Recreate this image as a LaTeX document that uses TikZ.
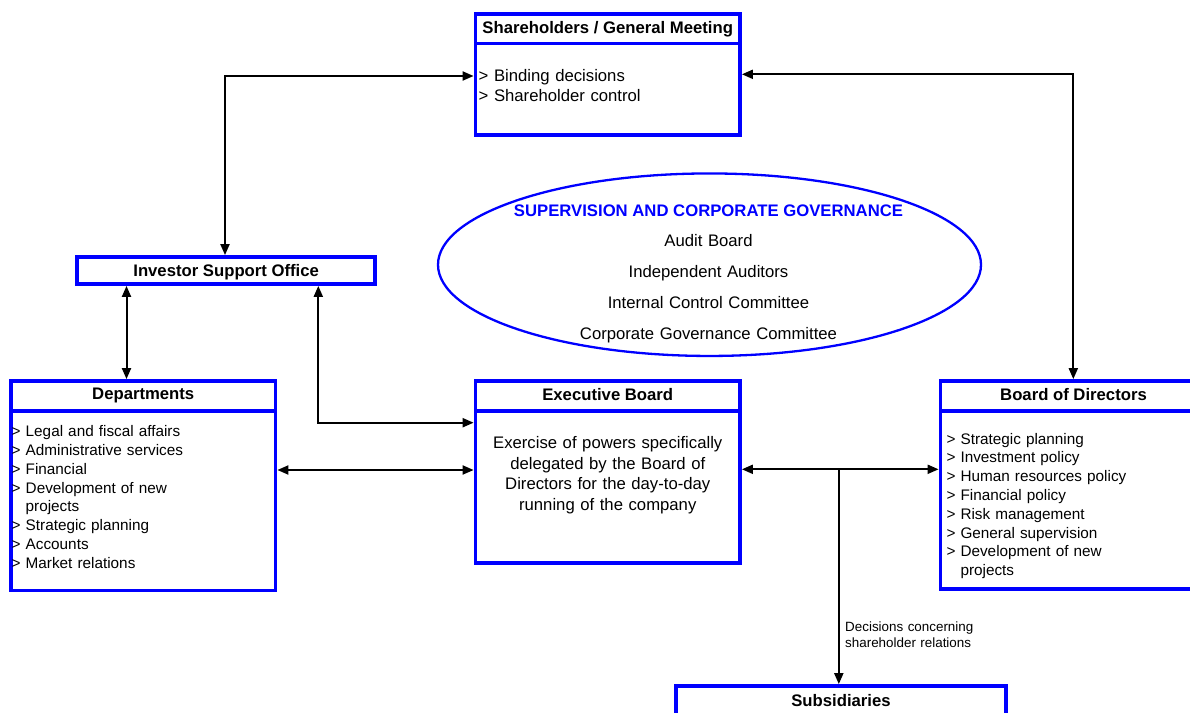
\documentclass[tikz,border=0pt]{standalone}
\usepackage{fontspec}
\setmainfont{Liberation Sans}
\usetikzlibrary{arrows.meta,shapes.geometric}
\definecolor{bblue}{RGB}{0,0,255}
\begin{document}
\begin{tikzpicture}[x=1pt,y=-1pt,
  box/.style={draw=bblue, line width=3.8pt, inner sep=0pt, fill=white},
  divl/.style={draw=bblue, line width=3.8pt},
  ttl/.style={font=\fontsize{16.7}{20}\selectfont\bfseries, inner sep=0pt},
  mtxt/.style={font=\fontsize{16.7}{20.8}\selectfont, inner sep=0pt},
  ltxt/.style={font=\fontsize{15.3}{18.8}\selectfont, inner sep=0pt, text width=250pt, align=left},
  stxt/.style={font=\fontsize{13.4}{16}\selectfont, inner sep=0pt, text width=200pt, align=left},
  conn/.style={line width=2pt, {Triangle[length=11pt,width=9pt]}-{Triangle[length=11pt,width=9pt]}},
  arr/.style={line width=2pt, -{Triangle[length=11pt,width=9pt]}}]
\useasboundingbox (0,0) rectangle (1190,712);
\clip (0,0) rectangle (1190,712);
\fill[white] (0,0) rectangle (1190,712);

% boxes
\node[box, minimum width=264.5pt, minimum height=120.7pt] (sh) at (607.75,74.35) {};
\draw[divl] (475.5,43.5) -- (740,43.5);
\node[box, minimum width=298.3pt, minimum height=27pt] (iso) at (226.15,270.5) {};
\node[box, minimum width=264.5pt, minimum height=209.5pt] (dep) at (143.25,485.75) {};
\draw[divl] (11,411) -- (275.5,411);
\node[box, minimum width=264.5pt, minimum height=182pt] (exec) at (607.75,472) {};
\draw[divl] (475.5,411) -- (740,411);
\node[box, minimum width=264.5pt, minimum height=208pt] (board) at (1072.75,485) {};
\draw[divl] (940.5,411) -- (1205,411);
\node[box, minimum width=330pt, minimum height=74pt] (sub) at (841,723) {};

% ellipse
\node[draw=bblue, line width=2.3pt, ellipse, inner sep=0pt, minimum width=543pt, minimum height=182.5pt] (sup) at (709.5,264.7) {};

% titles
\node[ttl, anchor=base] (shT) at (607.75,33.5) {Shareholders / General Meeting};
\node[ttl, anchor=base] (isoT) at (226.15,276.7) {Investor Support Office};
\node[ttl, anchor=base] (depT) at (143.25,399.3) {Departments};
\node[ttl, anchor=base] (execT) at (607.75,400) {Executive Board};
\node[ttl, anchor=base] (boardT) at (1073.5,400.7) {Board of Directors};
\node[ttl, anchor=base] (subT) at (841,706) {Subsidiaries};

% texts
\node[mtxt, text width=250pt, align=left, anchor=base west] (shL) at (478.5,81) {> Binding decisions\\> Shareholder control};
\node[mtxt, text width=260pt, align=center, anchor=base] (execL) at (607.75,448.3) {Exercise of powers specifically\\delegated by the Board of\\Directors for the day-to-day\\running of the company};
\node[ltxt, anchor=base west] (depL) at (11.5,436.7) {> Legal and fiscal affairs\\> Administrative services\\> Financial\\> Development of new\\\hphantom{> }projects\\> Strategic planning\\> Accounts\\> Market relations};
\node[ltxt, anchor=base west] (boardL) at (946.3,444) {> Strategic planning\\> Investment policy\\> Human resources policy\\> Financial policy\\> Risk management\\> General supervision\\> Development of new\\\hphantom{> }projects};

% ellipse texts
\node[ttl, text=bblue, anchor=base] (supT) at (708.5,216.7) {SUPERVISION AND CORPORATE GOVERNANCE};
\node[font=\fontsize{16.7}{30.8}\selectfont, inner sep=0pt, text width=400pt, align=center, anchor=base] (supL) at (708.5,246.7) {Audit Board\\Independent Auditors\\Internal Control Committee\\Corporate Governance Committee};

% connectors
\coordinate (j1) at (225,76);
\draw[conn] (j1 -| sh.west) -- (j1) -- (j1 |- iso.north);
\coordinate (j2) at (1073.3,74.3);
\draw[conn] (j2 -| sh.east) -- (j2) -- (j2 |- board.north);
\coordinate (j3) at (126.5,330);
\draw[conn] (iso.south -| j3) -- (dep.north -| j3);
\coordinate (j4) at (318.3,422.7);
\draw[conn] (iso.south -| j4) -- (j4) -- (j4 -| exec.west);
\coordinate (j5) at (376,470);
\draw[conn] (dep.east |- j5) -- (exec.west |- j5);
\coordinate (j6) at (838.8,469.3);
\draw[conn] (exec.east |- j6) -- (board.west |- j6);
\draw[arr] (j6) -- (j6 |- sub.north);

\node[stxt, anchor=base west] (lab) at (845,631) {Decisions concerning\\shareholder relations};
\end{tikzpicture}
\end{document}
